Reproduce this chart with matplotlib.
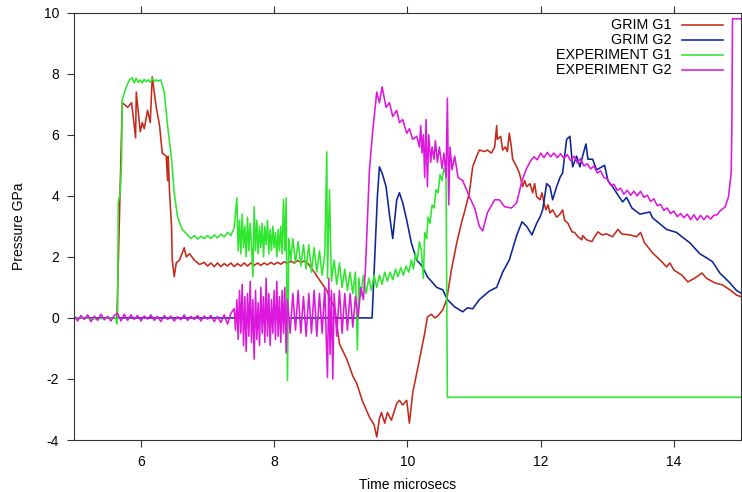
import matplotlib.pyplot as plt

# (time in microsecs, pressure in GPa)
grim_g1 = [(5.00,0.0),(5.64,0.0),(5.68,3.5),(5.72,7.05),(5.80,6.9),(5.86,7.05),(5.92,5.9),(5.93,7.4),(5.99,6.1),(6.02,6.4),
           (6.05,6.2),(6.10,6.8),(6.14,6.4),(6.17,7.9),(6.23,6.9),(6.28,6.3),(6.32,5.4),(6.38,5.3),(6.40,4.5),(6.41,5.3),
           (6.43,4.1),(6.46,3.0),(6.47,1.9),(6.50,1.35),(6.53,1.8),(6.58,1.9),(6.65,2.3),(6.68,2.0),(6.73,2.1),(6.80,1.9),
           (6.88,1.75),(6.95,1.82),(7.00,1.7),(7.05,1.8),(7.10,1.68),(7.15,1.8),(7.20,1.68),(7.25,1.78),(7.30,1.7),(7.35,1.8),
           (7.40,1.68),(7.45,1.78),(7.50,1.7),(7.55,1.8),(7.60,1.7),(7.65,1.8),(7.70,1.72),(7.75,1.8),(7.80,1.72),(7.85,1.8),
           (7.90,1.74),(7.95,1.82),(8.00,1.75),(8.05,1.82),(8.10,1.76),(8.15,1.84),(8.20,1.78),(8.25,1.86),(8.30,1.8),(8.35,1.88),
           (8.40,1.82),(8.45,1.86),(8.50,1.8),(8.58,1.57),(8.71,1.15),(8.79,0.9),(8.91,0.3),(8.98,-0.85),(9.09,-1.35),(9.18,-1.9),
           (9.24,-2.15),(9.33,-2.75),(9.43,-3.25),(9.50,-3.5),(9.54,-3.9),(9.58,-3.3),(9.61,-3.1),(9.66,-3.45),(9.70,-3.1),(9.76,-3.35),
           (9.84,-2.8),(9.88,-2.7),(9.93,-2.85),(9.99,-2.7),(10.03,-3.45),(10.08,-2.45),(10.15,-1.7),(10.26,-0.5),(10.30,0.03),(10.36,0.12),
           (10.41,0.0),(10.45,0.05),(10.53,0.26),(10.59,0.6),(10.66,1.57),(10.74,2.45),(10.81,3.1),(10.86,3.5),(10.93,4.1),(10.98,4.95),
           (11.04,5.3),(11.08,5.5),(11.16,5.45),(11.20,5.5),(11.26,5.4),(11.31,5.6),(11.34,6.3),(11.35,5.85),(11.40,5.95),(11.43,5.5),
           (11.47,5.6),(11.50,5.45),(11.53,6.05),(11.56,5.6),(11.58,5.2),(11.64,4.95),(11.68,4.75),(11.73,4.3),(11.76,4.5),(11.79,4.3),
           (11.84,4.4),(11.88,4.1),(11.91,4.4),(11.94,3.97),(11.99,3.87),(12.02,4.1),(12.05,3.77),(12.08,3.54),(12.11,3.7),(12.14,3.44),
           (12.18,3.54),(12.24,3.3),(12.29,3.4),(12.33,3.54),(12.36,3.2),(12.41,3.1),(12.47,2.82),(12.51,2.8),(12.56,2.66),(12.62,2.56),
           (12.63,2.7),(12.69,2.56),(12.77,2.5),(12.81,2.66),(12.86,2.82),(12.92,2.72),(12.99,2.75),(13.08,2.66),(13.16,2.9),(13.22,2.75),
           (13.34,2.72),(13.44,2.66),(13.50,2.8),(13.56,2.46),(13.68,2.13),(13.82,1.84),(13.89,1.67),(13.94,1.8),(14.00,1.57),(14.12,1.4),
           (14.21,1.18),(14.31,1.3),(14.42,1.47),(14.49,1.3),(14.61,1.15),(14.73,1.08),(14.84,0.92),(14.94,0.75),(15.00,0.7)]

grim_g2 = [(5.00,0.0),(9.47,0.0),(9.52,2.5),(9.55,4.0),(9.58,4.95),(9.62,4.75),(9.68,4.3),(9.73,3.4),(9.78,2.6),(9.84,3.87),
           (9.88,4.1),(9.93,3.77),(9.99,3.2),(10.06,2.45),(10.14,1.9),(10.23,1.67),(10.30,1.35),(10.44,1.0),(10.53,0.92),(10.60,0.6),
           (10.71,0.36),(10.83,0.2),(10.90,0.33),(10.98,0.3),(11.08,0.6),(11.23,0.88),(11.34,1.0),(11.43,1.5),(11.53,1.9),(11.64,2.7),
           (11.72,3.15),(11.79,3.0),(11.87,2.72),(11.94,3.1),(11.99,3.3),(12.03,3.54),(12.09,4.4),(12.14,4.3),(12.18,3.87),(12.24,4.3),
           (12.29,4.6),(12.33,4.75),(12.39,5.85),(12.44,5.95),(12.48,4.95),(12.54,5.3),(12.59,4.95),(12.63,5.3),(12.68,5.7),(12.71,5.2),
           (12.78,5.2),(12.84,4.85),(12.92,4.95),(12.96,5.0),(13.01,4.5),(13.08,4.3),(13.16,4.03),(13.23,3.8),(13.29,3.95),(13.37,3.6),
           (13.49,3.4),(13.64,3.47),(13.68,3.28),(13.89,2.9),(14.04,2.8),(14.12,2.66),(14.24,2.46),(14.39,2.1),(14.49,1.97),(14.58,1.84),
           (14.69,1.47),(14.84,1.15),(14.94,0.9),(15.00,0.82)]

exp_g1 = [(5.00,0.02),(5.30,-0.03),(5.62,0.0),(5.64,-0.2),(5.65,0.1),(5.66,3.8),(5.69,4.1),(5.71,5.2),(5.72,7.15),(5.78,7.57),
          (5.83,7.8),(5.87,7.87),(5.90,7.7),(5.93,7.85),(5.96,7.72),(5.99,7.8),(6.02,7.7),(6.05,7.82),(6.08,7.74),(6.11,7.8),
          (6.14,7.72),(6.17,7.85),(6.20,7.75),(6.23,7.8),(6.26,7.76),(6.30,7.8),(6.35,7.4),(6.40,6.3),(6.46,5.2),(6.50,4.1),
          (6.55,3.3),(6.62,2.9),(6.70,2.72),(6.75,2.6),(6.80,2.7),(6.85,2.58),(6.90,2.68),(6.95,2.6),(7.00,2.7),(7.05,2.6),
          (7.10,2.72),(7.15,2.62),(7.20,2.75),(7.25,2.65),(7.30,2.8),(7.35,2.7),(7.40,2.95),
          (7.44,3.93),(7.46,2.2),(7.48,3.2),(7.50,2.1),(7.52,3.4),(7.54,2.3),(7.56,3.0),(7.58,2.0),(7.60,3.3),(7.62,2.2),
          (7.64,3.1),(7.66,2.4),(7.68,1.35),(7.70,3.64),(7.72,2.2),(7.74,3.2),(7.76,2.1),(7.78,3.0),(7.80,2.3),(7.82,3.1),
          (7.84,2.0),(7.86,3.0),(7.88,2.4),(7.90,3.2),(7.92,2.1),(7.94,2.9),(7.96,2.2),(7.98,3.0),(8.00,2.3),(8.02,2.8),
          (8.04,2.0),(8.06,2.9),(8.08,2.2),(8.10,3.0),(8.12,2.1),(8.14,3.87),(8.16,2.2),(8.18,3.93),(8.20,-2.05),(8.22,2.6),
          (8.25,1.9),(8.28,2.6),(8.32,1.8),(8.36,2.5),(8.40,1.7),(8.44,2.4),(8.48,1.6),(8.52,2.4),(8.56,1.5),(8.60,2.3),
          (8.64,1.5),(8.68,2.2),(8.72,1.4),(8.76,2.1),(8.79,5.44),(8.80,1.3),(8.83,4.2),(8.86,1.2),(8.90,1.9),(8.94,1.1),
          (8.98,1.8),(9.02,1.0),(9.06,1.6),(9.10,0.9),(9.14,1.5),(9.18,0.8),(9.22,1.5),(9.25,-1.05),(9.27,1.3),(9.30,0.7),
          (9.34,1.4),(9.38,0.8),(9.42,1.3),(9.46,0.9),(9.50,1.4),(9.54,1.0),(9.58,1.4),(9.62,1.1),(9.66,1.5),(9.70,1.2),
          (9.74,1.5),(9.78,1.25),(9.82,1.6),(9.86,1.35),(9.90,1.65),(9.94,1.4),(9.98,1.7),(10.02,1.5),(10.06,1.9),(10.09,1.6),
          (10.12,2.1),(10.15,1.9),(10.18,2.5),(10.21,2.2),(10.24,1.3),(10.26,2.8),(10.29,2.6),(10.31,3.3),(10.34,3.1),(10.37,3.7),
          (10.40,3.6),(10.43,4.2),(10.46,4.1),(10.49,4.7),(10.52,4.5),(10.55,4.9),(10.58,4.7),(10.60,-2.6),(15.00,-2.6)]

exp_g2 = [(5.00,0.05),(5.05,-0.1),(5.10,0.08),(5.15,-0.05),(5.20,0.1),(5.25,-0.12),(5.30,0.06),(5.35,-0.08),(5.40,0.12),(5.45,-0.06),
          (5.50,0.05),(5.55,-0.1),(5.60,0.08),(5.65,0.15),(5.70,-0.1),(5.75,0.12),(5.80,-0.08),(5.85,0.1),(5.90,-0.05),(5.95,0.08),
          (6.00,-0.1),(6.05,0.06),(6.10,-0.04),(6.15,0.1),(6.20,-0.08),(6.25,0.05),(6.30,-0.12),(6.35,0.08),(6.40,-0.05),(6.45,0.06),
          (6.50,-0.1),(6.55,0.04),(6.60,-0.06),(6.65,0.1),(6.70,-0.08),(6.75,0.05),(6.80,-0.05),(6.85,0.08),(6.90,-0.1),(6.95,0.06),
          (7.00,-0.04),(7.05,0.08),(7.10,-0.12),(7.15,0.05),(7.20,-0.15),(7.25,0.1),(7.30,-0.2),(7.35,0.15),
          (7.40,0.3),(7.42,-0.4),(7.44,0.6),(7.46,-0.7),(7.48,0.9),(7.50,-0.5),(7.52,1.1),(7.54,-0.9),(7.56,0.7),(7.58,-1.1),
          (7.60,0.8),(7.62,-0.6),(7.64,1.2),(7.66,-0.8),(7.68,0.6),(7.70,-1.35),(7.72,0.9),(7.74,-0.7),(7.76,0.5),(7.78,-0.9),
          (7.80,1.0),(7.82,-0.5),(7.84,0.7),(7.86,-0.8),(7.88,1.3),(7.90,-0.6),(7.92,0.8),(7.94,-0.9),(7.96,0.6),(7.98,-0.5),
          (8.00,0.9),(8.02,-0.7),(8.04,1.2),(8.06,-0.6),(8.08,0.7),(8.10,-0.8),(8.12,0.9),(8.14,-0.5),(8.16,1.0),(8.18,-1.15),
          (8.20,0.6),(8.24,-0.5),(8.28,0.8),(8.32,-0.4),(8.36,0.9),(8.40,-0.5),(8.44,0.7),(8.48,-0.6),(8.52,0.8),(8.56,-0.5),
          (8.60,0.9),(8.64,-0.6),(8.68,0.8),(8.72,-0.5),(8.76,1.0),(8.80,-1.95),(8.82,1.3),(8.84,-1.2),(8.86,0.9),(8.88,-2.0),
          (8.90,0.8),(8.94,-0.6),(8.98,0.9),(9.02,-0.5),(9.06,0.8),(9.10,-0.4),(9.14,0.8),(9.18,-0.3),(9.22,0.7),(9.26,0.0),
          (9.30,1.0),(9.34,0.6),(9.37,1.6),(9.39,2.7),(9.43,4.85),(9.48,6.15),(9.54,7.4),(9.58,7.05),(9.62,7.57),(9.68,6.9),
          (9.73,7.05),(9.78,6.6),(9.84,6.8),(9.88,6.4),(9.93,6.5),(9.99,6.05),(10.03,6.2),(10.08,5.85),(10.14,5.95),(10.18,5.6),
          (10.20,6.3),(10.22,5.4),(10.24,6.0),(10.26,4.6),(10.28,6.5),(10.30,4.3),(10.32,6.0),(10.35,5.1),(10.37,5.6),(10.40,5.2),
          (10.42,5.8),(10.45,5.1),(10.48,5.6),(10.52,4.9),(10.55,5.4),(10.58,4.6),(10.60,7.2),(10.62,3.7),(10.64,5.6),(10.67,4.85),
          (10.71,5.3),(10.76,4.6),(10.83,4.5),(10.93,3.97),(11.01,3.6),(11.08,3.0),(11.13,2.85),(11.20,3.44),(11.31,3.87),(11.38,3.87),
          (11.46,3.64),(11.56,3.6),(11.64,3.77),(11.72,4.5),(11.79,4.9),(11.85,5.15),
          (11.90,5.28),(11.95,5.18),(12.00,5.40),(12.05,5.25),(12.10,5.42),(12.15,5.28),(12.20,5.40),(12.25,5.25),(12.30,5.38),(12.35,5.22),
          (12.40,5.35),(12.45,5.15),(12.50,5.30),(12.55,5.08),(12.60,5.22),(12.65,4.98),(12.70,5.05),(12.75,4.88),(12.80,4.98),(12.85,4.75),
          (12.90,4.82),(12.95,4.6),(13.00,4.55),(13.05,4.35),(13.10,4.38),(13.15,4.18),(13.20,4.25),(13.25,4.05),(13.30,4.18),(13.35,4.02),
          (13.40,4.15),(13.45,4.0),(13.50,4.15),(13.55,3.95),(13.60,4.02),(13.65,3.82),(13.70,3.9),(13.75,3.68),(13.80,3.72),(13.85,3.52),
          (13.90,3.6),(13.95,3.42),(14.00,3.5),(14.05,3.32),(14.10,3.42),(14.15,3.28),(14.20,3.4),(14.25,3.22),(14.30,3.38),(14.35,3.2),
          (14.40,3.36),(14.45,3.22),(14.50,3.35),(14.55,3.24),(14.60,3.36),(14.65,3.38),(14.69,3.5),(14.77,3.64),(14.82,3.97),(14.86,4.75),
          (14.87,6.15),(14.88,9.8),(15.00,9.8)]

labels = ['GRIM G1', 'GRIM G2', 'EXPERIMENT G1', 'EXPERIMENT G2']
colors = ['#c42a1c', '#0c2496', '#2ee62e', '#dc18dc']
series = [grim_g1, grim_g2, exp_g1, exp_g2]

plt.rcParams['font.family'] = 'Liberation Sans'
plt.rcParams['axes.unicode_minus'] = False
fig = plt.figure(figsize=(7.42, 4.92), dpi=100)
ax = fig.add_axes([74.3/742, 52/492, 666.2/742, 427.3/492])

for data, c in zip(series, colors):
    t, p = zip(*data)
    ax.plot(t, p, color=c, lw=1.15)

ax.set_xlim(5, 15)
ax.set_ylim(-4, 10)
ax.set_xticks([6, 8, 10, 12, 14])
ax.set_yticks([-4, -2, 0, 2, 4, 6, 8, 10])
ax.tick_params(direction='out', length=5, width=0.8, top=True, right=True,
               labelsize=10, pad=6, color='#333333')
for s in ax.spines.values():
    s.set_linewidth(0.8)
    s.set_color('#333333')
ax.set_xlabel('Time microsecs', fontsize=10, labelpad=6)
ax.set_ylabel('Pressure GPa', fontsize=10, labelpad=13)

# legend drawn gnuplot style: right aligned text, line sample after it
for i, (lab, c) in enumerate(zip(labels, colors)):
    y = 0.972 - i * 0.0352
    ax.text(0.896, y, lab, ha='right', va='center', fontsize=10.3, transform=ax.transAxes)
    ax.plot([0.9115, 0.973], [y, y], color=c, lw=1.15, transform=ax.transAxes)

fig.savefig('out.png', dpi=100)
